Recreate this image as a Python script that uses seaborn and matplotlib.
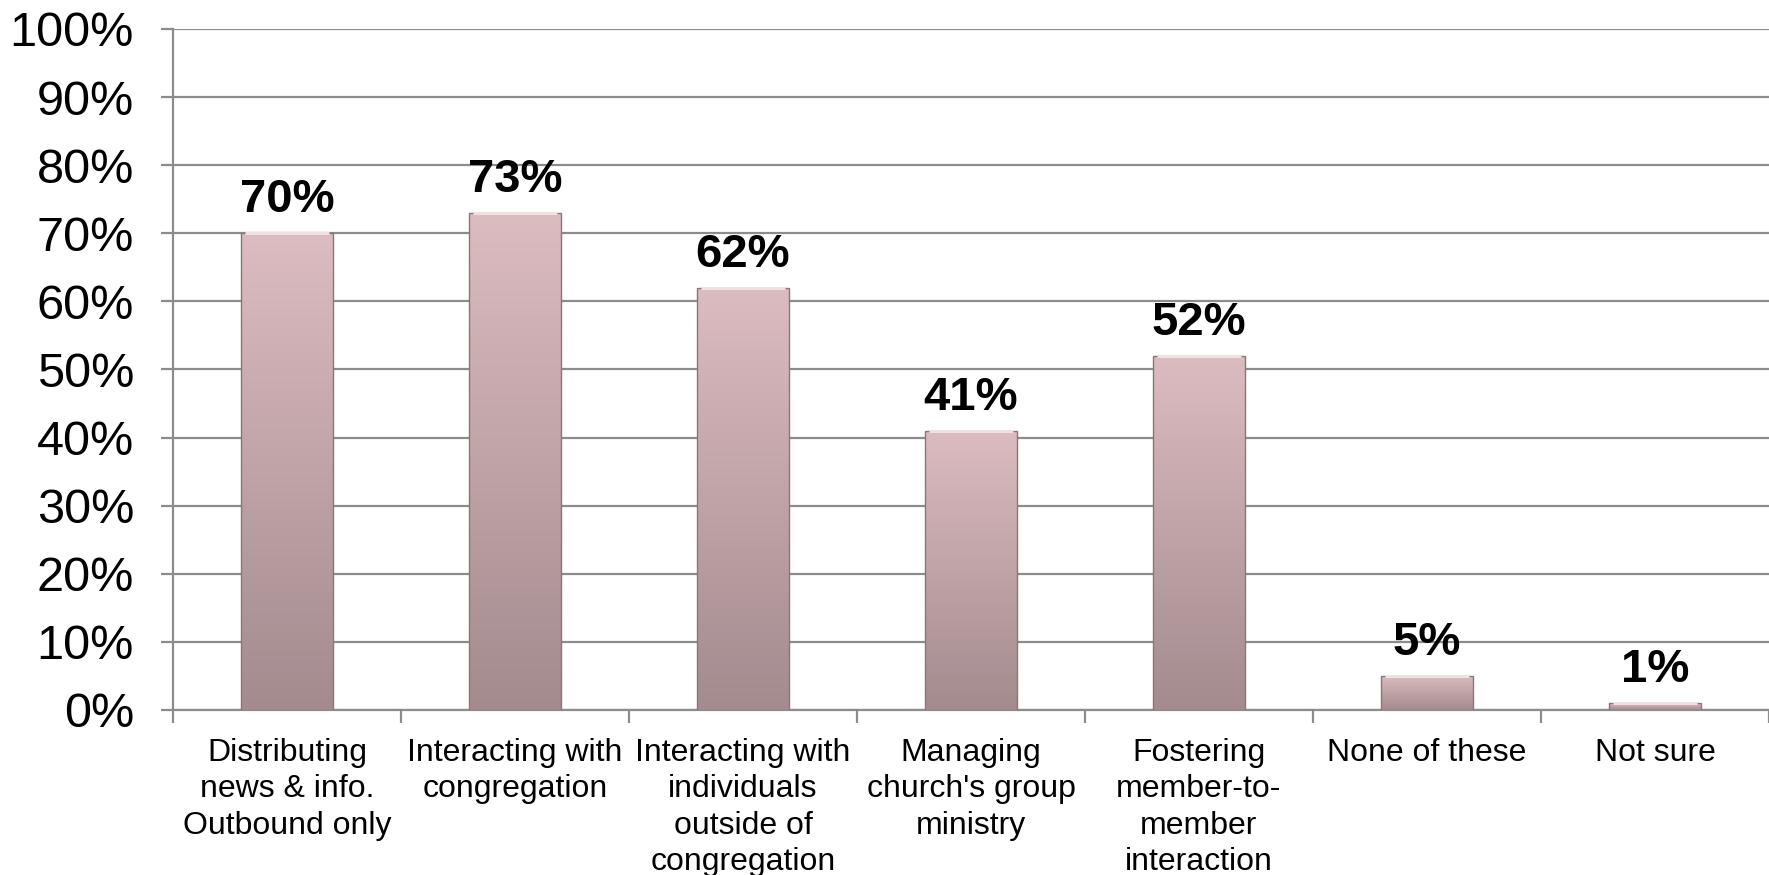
import numpy as np
import pandas as pd
import matplotlib
matplotlib.use("Agg")
import matplotlib.pyplot as plt
import seaborn as sns
from matplotlib.colors import LinearSegmentedColormap

categories = [
    "Distributing\nnews & info.\nOutbound only",
    "Interacting with\ncongregation",
    "Interacting with\nindividuals\noutside of\ncongregation",
    "Managing\nchurch's group\nministry",
    "Fostering\nmember-to-\nmember\ninteraction",
    "None of these",
    "Not sure",
]
values = [70, 73, 62, 41, 52, 5, 1]
y_ticks = [0, 10, 20, 30, 40, 50, 60, 70, 80, 90, 100]

sns.set_theme(style="white")
plt.rcParams["font.family"] = ["Liberation Sans", "DejaVu Sans"]
plt.rcParams["text.color"] = "black"
plt.rcParams["xtick.labelcolor"] = "black"
plt.rcParams["ytick.labelcolor"] = "black"

df = pd.DataFrame({"category": categories, "value": values})

fig = plt.figure(figsize=(17.69, 8.75), dpi=100)
ax = fig.add_axes([0.0978, 0.1886, 0.9022, 0.7783])

grid_color = "#8c8c8c"
sns.barplot(data=df, x="category", y="value", color="#c8adb0", width=0.4,
            ax=ax, zorder=3, saturation=1)

ax.set_ylim(0, 100)
ax.set_xlim(-0.5, len(categories) - 0.5)

# vertical pink-to-mauve gradient inside each bar
cmap = LinearSegmentedColormap.from_list("bar", ["#dcbcc0", "#a38b8e"])
grad = np.linspace(0, 1, 256).reshape(-1, 1)
for p in ax.patches:
    x0, y0 = p.get_x(), p.get_y()
    w, h = p.get_width(), p.get_height()
    im = ax.imshow(grad, cmap=cmap, aspect="auto", origin="upper",
                   extent=(x0, x0 + w, y0, y0 + h), zorder=3.5)
    im.set_clip_path(p)
    p.set_facecolor("none")
    p.set_edgecolor("#8a7679")
    p.set_linewidth(1.0)
    p.set_zorder(4)
    # soft highlight along the top edge
    ax.plot([x0 + w * 0.04, x0 + w * 0.96], [y0 + h, y0 + h],
            color="#f3dfe2", lw=2.2, zorder=4.5, solid_capstyle="butt")

for i, v in enumerate(values):
    ax.text(i, v + 1.6, f"{v}%", ha="center", va="bottom",
            fontsize=34, fontweight="bold", color="black", zorder=5)

ax.set_yticks(y_ticks)
ax.set_yticklabels([f"{t}%" for t in y_ticks], fontsize=35, color="black")
ax.yaxis.grid(True, color=grid_color, linewidth=1.6, zorder=0)
ax.set_axisbelow(True)

ax.set_xticks(range(len(categories)))
ax.set_xticklabels(categories, fontsize=23, linespacing=1.28, color="black")
ax.set_xticks(np.arange(-0.5, len(categories), 1.0), minor=True)
ax.tick_params(axis="x", which="major", length=0, pad=20)
ax.tick_params(axis="x", which="minor", length=9, width=1.6,
               color=grid_color, direction="out", bottom=True)
ax.tick_params(axis="y", which="major", length=9, width=1.6,
               color=grid_color, direction="out", left=True, pad=19)

ax.set_xlabel("")
ax.set_ylabel("")
for side in ["top", "right"]:
    ax.spines[side].set_visible(False)
for side in ["left", "bottom"]:
    ax.spines[side].set_visible(True)
    ax.spines[side].set_color(grid_color)
    ax.spines[side].set_linewidth(1.6)

fig.savefig("out.png", dpi=100, facecolor="white")
